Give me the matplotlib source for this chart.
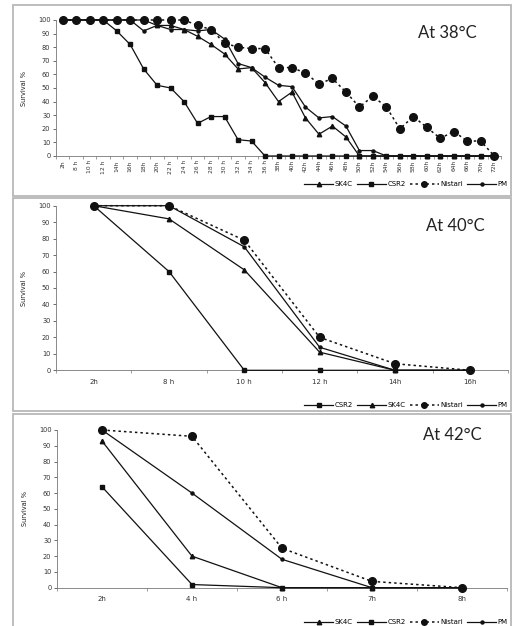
import matplotlib
matplotlib.use("Agg")
import matplotlib.pyplot as plt
from matplotlib.lines import Line2D
from matplotlib.patches import Rectangle

# ---------------- data ----------------
cats38 = ['2h', '8 h', '10 h', '12 h', '14h', '16h', '18h', '20h', '22 h', '24 h', '26 h',
          '28 h', '30 h', '32 h', '34 h', '36 h', '38h', '40h', '42h', '44h', '46h', '48h',
          '50h', '52h', '54h', '56h', '58h', '60h', '62h', '64h', '66h', '70h', '72h']
sk4c_38 = [100, 100, 100, 100, 100, 100, 100, 96, 96, 93, 88, 82, 75, 64, 65, 54, 40, 47,
           28, 16, 22, 14, 0, 0, 0, 0, 0, 0, 0, 0, 0, 0, 0]
csr2_38 = [100, 100, 100, 100, 92, 82, 64, 52, 50, 40, 24, 29, 29, 12, 11, 0, 0, 0,
           0, 0, 0, 0, 0, 0, 0, 0, 0, 0, 0, 0, 0, 0, 0]
nistari_38 = [100, 100, 100, 100, 100, 100, 100, 100, 100, 100, 96, 93, 83, 80, 79, 79, 65, 65,
              61, 53, 57, 47, 36, 44, 36, 20, 29, 21, 13, 18, 11, 11, 0]
pm_38 = [100, 100, 100, 100, 100, 100, 92, 96, 93, 93, 92, 93, 86, 68, 65, 58, 52, 51,
         36, 28, 29, 22, 4, 4, 0, 0, 0, 0, 0, 0, 0, 0, 0]

cats40 = ['2h', '8 h', '10 h', '12 h', '14h', '16h']
csr2_40 = [100, 60, 0, 0, 0, 0]
sk4c_40 = [100, 92, 61, 11, 0, 0]
nistari_40 = [100, 100, 79, 20, 4, 0]
pm_40 = [100, 100, 75, 14, 0, 0]

cats42 = ['2h', '4 h', '6 h', '7h', '8h']
sk4c_42 = [93, 20, 0, 0, 0]
csr2_42 = [64, 2, 0, 0, 0]
nistari_42 = [100, 96, 25, 4, 0]
pm_42 = [100, 60, 18, 0, 0]

titles = ['At 38\u00b0C', 'At 40\u00b0C', 'At 42\u00b0C']

# ---------------- styles ----------------
W, H = 517, 626
fig = plt.figure(figsize=(W / 100, H / 100), dpi=100)
fig.patch.set_facecolor('white')

LC = '#111111'
styles = {
    'SK4C': dict(color=LC, lw=0.9, ls='-', marker='^', ms=3.2),
    'CSR2': dict(color=LC, lw=0.9, ls='-', marker='s', ms=3.0),
    'Nistari': dict(color=LC, lw=1.1, ls=(0, (1.6, 2.0)), marker='o', ms=5.5),
    'PM': dict(color=LC, lw=0.9, ls='-', marker='o', ms=2.2),
}


def px_axes(l, r, t, b):
    return fig.add_axes([l / W, 1 - b / H, (r - l) / W, (b - t) / H])


def frame(l, r, t, b):
    fig.add_artist(Rectangle((l / W, 1 - b / H), (r - l) / W, (b - t) / H,
                             transform=fig.transFigure, fill=False,
                             edgecolor='#b8b8b8', lw=1.3))


def style_axes(ax, cats, rot, fs):
    n = len(cats)
    ax.set_xlim(-0.5, n - 0.5)
    ax.set_ylim(0, 100)
    ax.set_yticks(range(0, 101, 10))
    ax.tick_params(axis='y', labelsize=4.8, length=2, width=0.5, pad=2, colors='#333333')
    ax.set_xticks(range(n))
    ax.set_xticklabels(cats, rotation=rot, fontsize=fs, color='#333333')
    ax.tick_params(axis='x', length=0, pad=3 if rot else 6)
    ax.set_xticks([i + 0.5 for i in range(-1, n)], minor=True)
    ax.tick_params(axis='x', which='minor', length=2.5, width=0.5, color='#777777')
    for s in ['top', 'right']:
        ax.spines[s].set_visible(False)
    ax.spines['left'].set_color('#777777')
    ax.spines['bottom'].set_color('#777777')
    ax.spines['left'].set_linewidth(0.6)
    ax.spines['bottom'].set_linewidth(0.6)
    ax.set_ylabel('Survival %', fontsize=4.8, labelpad=8, color='#222222')
    ax.set_facecolor('none')


def plot_series(ax, order, data, cats):
    x = list(range(len(cats)))
    for name in order:
        st = styles[name]
        ax.plot(x, data[name], color=st['color'], lw=st['lw'], ls=st['ls'],
                marker=st['marker'], ms=st['ms'], mfc=st['color'], mec=st['color'],
                clip_on=False, zorder=3 if name != 'Nistari' else 4)


def legend(ax, order, y_px, right_px=508):
    handles = []
    for name in order:
        st = styles[name]
        handles.append(Line2D([], [], color=st['color'], lw=st['lw'], ls=st['ls'],
                              marker=st['marker'], ms=st['ms'] if name != 'Nistari' else 4))
    ax.legend(handles, order, loc='center right', ncol=4, frameon=False,
              bbox_to_anchor=(right_px / W, 1 - y_px / H), bbox_transform=fig.transFigure,
              fontsize=5, handlelength=4.2, handletextpad=0.2, columnspacing=0.6,
              borderpad=0, borderaxespad=0)


# ---------------- panel 1 ----------------
frame(13, 511, 5, 196)
ax1 = px_axes(56, 501, 20, 156)
style_axes(ax1, cats38, 90, 4.3)
order1 = ['SK4C', 'CSR2', 'Nistari', 'PM']
plot_series(ax1, order1, dict(SK4C=sk4c_38, CSR2=csr2_38, Nistari=nistari_38, PM=pm_38), cats38)
legend(ax1, order1, 184)
fig.text(447 / W, 1 - 33 / H, titles[0], fontsize=12, family='Lato', ha='center', va='center',
         color='#222222')

# ---------------- panel 2 ----------------
frame(13, 511, 198, 411)
ax2 = px_axes(56, 508, 205.7, 370.3)
style_axes(ax2, cats40, 0, 5)
order2 = ['CSR2', 'SK4C', 'Nistari', 'PM']
plot_series(ax2, order2, dict(SK4C=sk4c_40, CSR2=csr2_40, Nistari=nistari_40, PM=pm_40), cats40)
legend(ax2, order2, 405)
fig.text(455 / W, 1 - 226 / H, titles[1], fontsize=12, family='Lato', ha='center', va='center',
         color='#222222')

# ---------------- panel 3 ----------------
frame(13, 511, 414, 627)
ax3 = px_axes(57, 507, 430, 587.7)
style_axes(ax3, cats42, 0, 5)
order3 = ['SK4C', 'CSR2', 'Nistari', 'PM']
plot_series(ax3, order3, dict(SK4C=sk4c_42, CSR2=csr2_42, Nistari=nistari_42, PM=pm_42), cats42)
legend(ax3, order3, 622)
fig.text(452 / W, 1 - 435 / H, titles[2], fontsize=12, family='Lato', ha='center', va='center',
         color='#222222')

fig.savefig('out.png', dpi=100, facecolor='white')
